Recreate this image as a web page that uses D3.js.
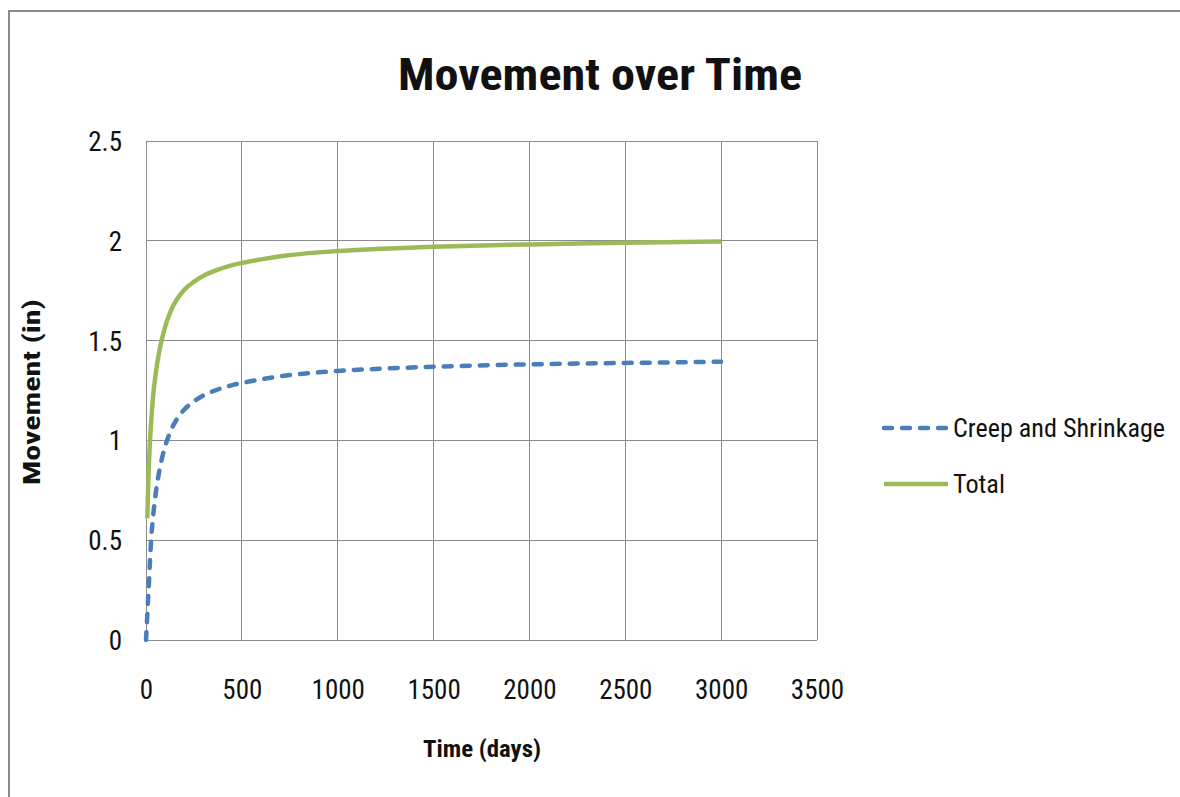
<!DOCTYPE html>
<html>
<head>
<meta charset="utf-8">
<script src="https://cdn.jsdelivr.net/npm/d3@7"></script>
<style>
  html, body { margin: 0; padding: 0; background: #ffffff; }
  svg { display: block; }
  text { font-family: "Liberation Sans Narrow", "Arial Narrow", "Roboto Condensed", "Liberation Sans", sans-serif; fill: #111; }
</style>
</head>
<body>
<svg id="chart" width="1180" height="797"></svg>
<script>
// Elapsed time in days
const days = [0, 7, 10, 14, 21, 28, 35, 50, 70, 100, 130, 160, 200, 250, 300, 365, 450, 500, 600, 730, 900, 1000, 1200, 1500, 1800, 2000, 2500, 3000];
// Creep and shrinkage movement (in)
const creepShrinkage = [0, 0.13, 0.19, 0.26, 0.40, 0.52, 0.60, 0.73, 0.85, 0.97, 1.05, 1.105, 1.155, 1.195, 1.225, 1.252, 1.277, 1.288, 1.306, 1.325, 1.341, 1.348, 1.358, 1.369, 1.377, 1.381, 1.388, 1.394];
// Total movement (in); no value at day 0
const total = [null, 0.61, 0.73, 0.85, 1.0, 1.11, 1.20, 1.33, 1.45, 1.57, 1.65, 1.705, 1.755, 1.795, 1.825, 1.852, 1.878, 1.889, 1.907, 1.926, 1.942, 1.949, 1.959, 1.97, 1.978, 1.982, 1.99, 1.997];

const xTicks = [0, 500, 1000, 1500, 2000, 2500, 3000, 3500];
const yTicks = [0, 0.5, 1, 1.5, 2, 2.5];
const seriesNames = ["Creep and Shrinkage", "Total"];

const svg = d3.select("#chart");

// Outer chart frame
svg.append("rect")
  .attr("x", 9).attr("y", 11)
  .attr("width", 1180).attr("height", 800)
  .attr("fill", "none").attr("stroke", "#8a8a8a").attr("stroke-width", 2);

const x = d3.scaleLinear().domain([0, 3500]).range([146, 817]);
const y = d3.scaleLinear().domain([0, 2.5]).range([640, 141]);

// Gridlines
const grid = svg.append("g").attr("stroke", "#8c8c8c").attr("stroke-width", 1).attr("shape-rendering", "crispEdges");
grid.selectAll("line.v").data(xTicks).join("line")
  .attr("x1", d => x(d)).attr("x2", d => x(d))
  .attr("y1", y(0)).attr("y2", y(2.5));
grid.selectAll("line.h").data(yTicks).join("line")
  .attr("x1", x(0)).attr("x2", x(3500))
  .attr("y1", d => y(d)).attr("y2", d => y(d));

// Axes (labels only, lines come from the grid)
const xAxis = d3.axisBottom(x).tickValues(xTicks).tickSize(0).tickPadding(0).tickFormat(d3.format("d"));
const gx = svg.append("g").attr("transform", `translate(0, ${y(0)})`).call(xAxis);
gx.select(".domain").remove();
gx.selectAll("text").attr("y", 59).attr("dy", null).attr("font-size", 27).attr("font-family", null).style("fill", "#111");

const yAxis = d3.axisLeft(y).tickValues(yTicks).tickSize(0).tickPadding(0).tickFormat(d => String(d));
const gy = svg.append("g").attr("transform", `translate(${x(0)}, 0)`).call(yAxis);
gy.select(".domain").remove();
gy.selectAll("text").attr("x", -24).attr("dy", "0.35em").attr("font-size", 27).attr("font-family", null).style("fill", "#111");

// Series lines
const pts = days.map((d, i) => ({ t: d, c: creepShrinkage[i], tot: total[i] }));

const lineC = d3.line().x(d => x(d.t)).y(d => y(d.c)).curve(d3.curveMonotoneX);
const lineT = d3.line().defined(d => d.tot !== null).x(d => x(d.t)).y(d => y(d.tot)).curve(d3.curveMonotoneX);

svg.append("path").datum(pts).attr("d", lineT)
  .attr("fill", "none").attr("stroke", "#9bbb59").attr("stroke-width", 4.5);

svg.append("path").datum(pts).attr("d", lineC)
  .attr("fill", "none").attr("stroke", "#4a7ebb").attr("stroke-width", 4.5)
  .attr("stroke-dasharray", "8,10").attr("stroke-linecap", "round");

// Title
svg.append("text").attr("x", 600).attr("y", 90).attr("text-anchor", "middle")
  .attr("font-size", 44).attr("font-weight", "bold")
  .attr("textLength", 404).attr("lengthAdjust", "spacingAndGlyphs")
  .text("Movement over Time");

// Axis titles
svg.append("text").attr("x", 482).attr("y", 757).attr("text-anchor", "middle")
  .attr("font-size", 24).attr("font-weight", "bold")
  .attr("textLength", 118).attr("lengthAdjust", "spacingAndGlyphs")
  .text("Time (days)");

svg.append("text").attr("transform", "translate(40, 392) rotate(-90)").attr("text-anchor", "middle")
  .attr("font-size", 24).attr("font-weight", "bold")
  .attr("textLength", 186).attr("lengthAdjust", "spacingAndGlyphs")
  .text("Movement (in)");

// Legend
const legend = svg.append("g");
const legendRows = [
  { name: seriesNames[0], color: "#4a7ebb", dash: "8,10", cap: "round", y: 428, w: 212 },
  { name: seriesNames[1], color: "#9bbb59", dash: null, cap: "butt", y: 484, w: 52 }
];
legendRows.forEach(r => {
  legend.append("line").attr("x1", 884).attr("x2", 948).attr("y1", r.y).attr("y2", r.y)
    .attr("stroke", r.color).attr("stroke-width", 4.5)
    .attr("stroke-dasharray", r.dash).attr("stroke-linecap", r.cap);
  legend.append("text").attr("x", 953).attr("y", r.y).attr("dy", "0.35em")
    .attr("font-size", 26).attr("textLength", r.w).attr("lengthAdjust", "spacingAndGlyphs")
    .text(r.name);
});
</script>
</body>
</html>
